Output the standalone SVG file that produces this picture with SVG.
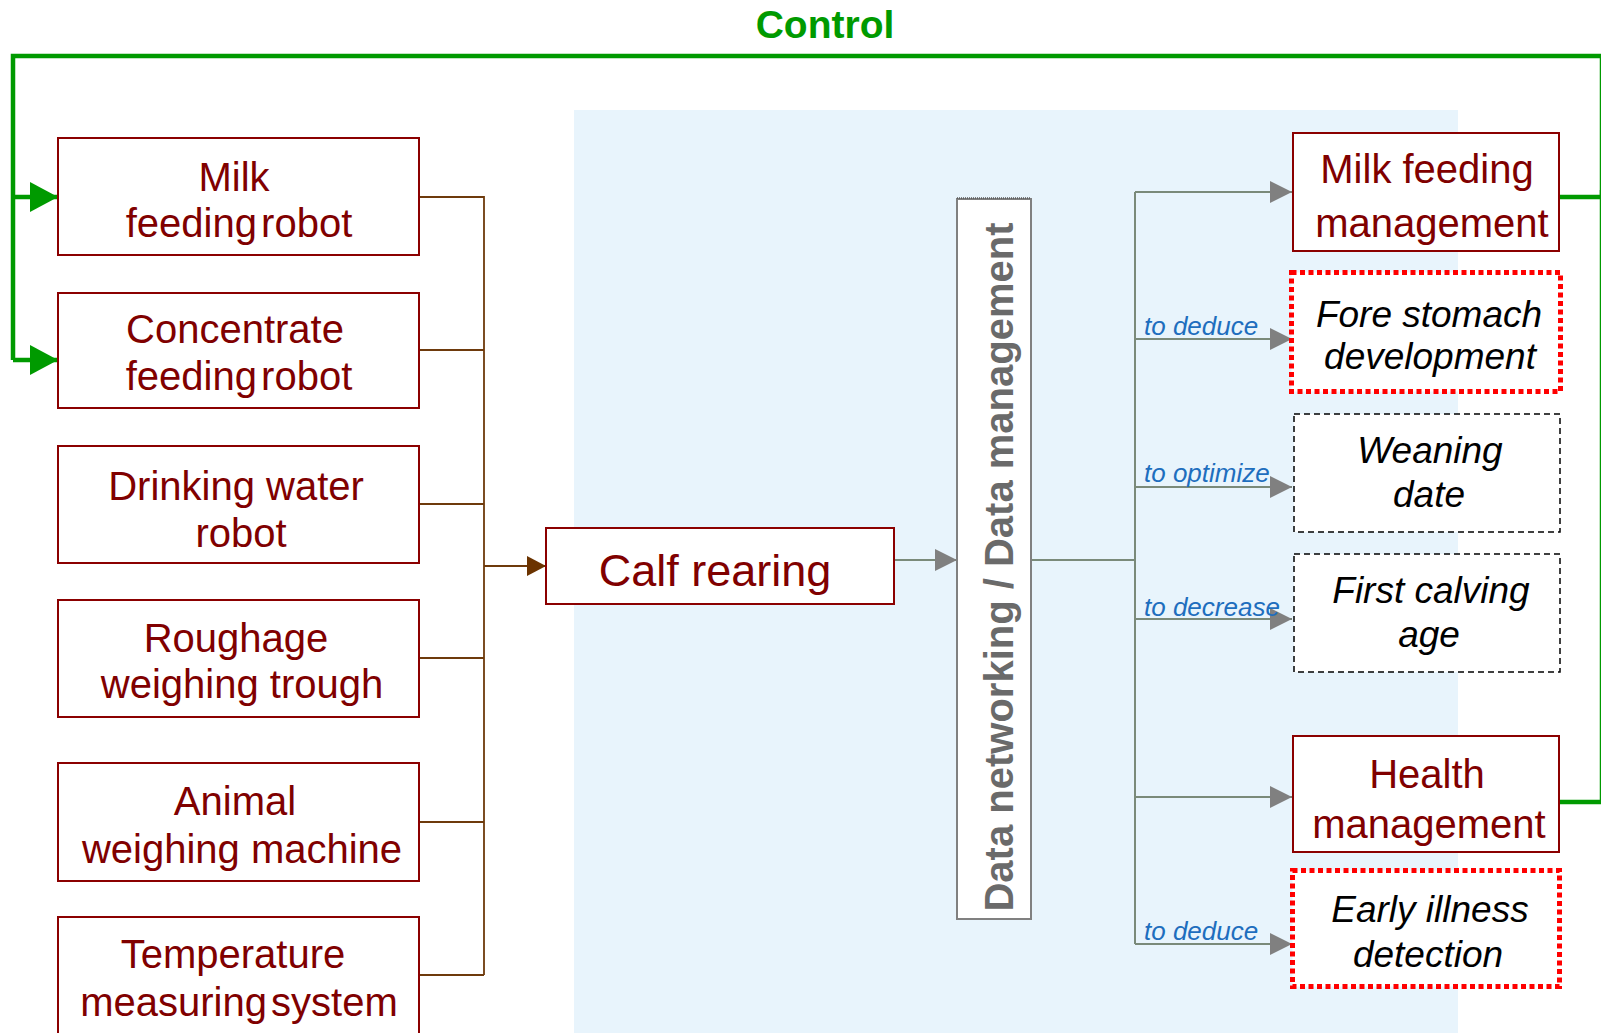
<svg xmlns="http://www.w3.org/2000/svg" width="1601" height="1033" viewBox="0 0 1601 1033">
<style>
.bx{fill:#fff;stroke:#8B0000;stroke-width:2}
.rt{font-family:"Liberation Sans",Arial,sans-serif;font-size:40px;fill:#800000;text-anchor:middle}
.it{font-family:"Liberation Sans",Arial,sans-serif;font-size:37px;font-style:italic;fill:#000;text-anchor:middle}
.lb{font-family:"Liberation Sans",Arial,sans-serif;font-size:26px;font-style:italic;fill:#1E6EBE}
.red{fill:#fff;stroke:#FF0000;stroke-width:5;stroke-dasharray:5 3.5}
.dsh{fill:#fff;stroke:#000;stroke-width:1.5;stroke-dasharray:6 4}
.gl{fill:none;stroke:#009A00;stroke-width:4.5}
.br{fill:none;stroke:#6E3A0C;stroke-width:1.8}
.gy{fill:none;stroke:#7A8A7A;stroke-width:2}
.nw{word-spacing:-7px}
</style>
<defs>
<marker id="ag" markerUnits="userSpaceOnUse" markerWidth="22" markerHeight="22" refX="22" refY="11" orient="auto" viewBox="0 0 22 22"><path d="M0,0 L22,11 L0,22 Z" fill="#808080"/></marker>
<marker id="agr" markerUnits="userSpaceOnUse" markerWidth="28" markerHeight="30" refX="28" refY="15" orient="auto" viewBox="0 0 28 30"><path d="M0,0 L28,15 L0,30 Z" fill="#009A00"/></marker>
<marker id="abr" markerUnits="userSpaceOnUse" markerWidth="19" markerHeight="20" refX="19" refY="10" orient="auto" viewBox="0 0 19 20"><path d="M0,0 L19,10 L0,20 Z" fill="#6B3300"/></marker>
</defs>
<rect x="0" y="0" width="1601" height="1033" fill="#fff"/>
<rect x="574" y="110" width="884" height="930" fill="#E8F4FC"/>
<text x="825" y="38" font-family="Liberation Sans, Arial, sans-serif" font-size="39" font-weight="bold" fill="#009A00" text-anchor="middle">Control</text>

<g id="connectors">
<path class="gl" d="M1601,56 H13 V360"/>
<path class="gl" d="M13,197 H58" marker-end="url(#agr)"/>
<path class="gl" d="M13,360 H58" marker-end="url(#agr)"/>
<path class="gl" d="M1559,197 H1602 V56"/>
<path class="gl" d="M1559,802 H1602 V190"/>
<path class="br" d="M419,197 H484 M419,350 H484 M419,504 H484 M419,658 H484 M419,822 H484 M419,975 H484 M484,196 V975"/>
<path class="br" d="M484,566 H546" stroke="#6B3300" stroke-width="2.2" marker-end="url(#abr)"/>
<path class="gy" d="M894,560 H957" marker-end="url(#ag)"/>
<path class="gy" d="M1031,560 H1135 M1135,192 V944"/>
<path class="gy" d="M1135,192 H1292" marker-end="url(#ag)"/>
<path class="gy" d="M1135,339 H1292" marker-end="url(#ag)"/>
<path class="gy" d="M1135,487 H1292" marker-end="url(#ag)"/>
<path class="gy" d="M1135,619 H1292" marker-end="url(#ag)"/>
<path class="gy" d="M1135,797 H1292" marker-end="url(#ag)"/>
<path class="gy" d="M1135,944 H1292" marker-end="url(#ag)"/>
<text class="lb" x="1144" y="335">to deduce</text>
<text class="lb" x="1144" y="482">to optimize</text>
<text class="lb" x="1144" y="616">to decrease</text>
<text class="lb" x="1144" y="940">to deduce</text>
</g>

<g id="milk-feeding-robot">
<rect class="bx" x="58" y="138" width="361" height="117"/>
<text class="rt" x="234" y="191">Milk</text>
<text class="rt nw" x="239" y="237">feeding robot</text>
</g>
<g id="concentrate-feeding-robot">
<rect class="bx" x="58" y="293" width="361" height="115"/>
<text class="rt" x="235" y="343">Concentrate</text>
<text class="rt nw" x="239" y="390">feeding robot</text>
</g>
<g id="drinking-water-robot">
<rect class="bx" x="58" y="446" width="361" height="117"/>
<text class="rt" x="236" y="500">Drinking water</text>
<text class="rt" x="241" y="547">robot</text>
</g>
<g id="roughage-weighing-trough">
<rect class="bx" x="58" y="600" width="361" height="117"/>
<text class="rt" x="236" y="652">Roughage</text>
<text class="rt" x="242" y="698">weighing trough</text>
</g>
<g id="animal-weighing-machine">
<rect class="bx" x="58" y="763" width="361" height="118"/>
<text class="rt" x="235" y="815">Animal</text>
<text class="rt" x="242" y="863">weighing machine</text>
</g>
<g id="temperature-measuring-system">
<rect class="bx" x="58" y="917" width="361" height="130"/>
<text class="rt" x="233" y="968">Temperature</text>
<text class="rt nw" x="239" y="1016">measuring system</text>
</g>

<g id="calf-rearing">
<rect class="bx" x="546" y="528" width="348" height="76"/>
<text class="rt" x="715" y="586" style="font-size:45px">Calf rearing</text>
</g>

<g id="data-networking">
<rect x="957" y="199" width="74" height="720" fill="#fff" stroke="#808080" stroke-width="2"/>
<path d="M957,198 H1031" stroke="#555" stroke-width="1.5" stroke-dasharray="1 1" fill="none"/>
<text transform="translate(1013,567) rotate(-90)" font-family="Liberation Sans, Arial, sans-serif" font-size="40" font-weight="bold" fill="#6A6A6A" text-anchor="middle">Data networking / Data management</text>
</g>

<g id="milk-feeding-management">
<rect class="bx" x="1293" y="133" width="266" height="118"/>
<text class="rt" x="1427" y="183">Milk feeding</text>
<text class="rt" x="1432" y="237">management</text>
</g>
<g id="fore-stomach-development">
<rect class="red" x="1291.5" y="272.5" width="269" height="119"/>
<text class="it" x="1429" y="327">Fore stomach</text>
<text class="it" x="1430" y="369">development</text>
</g>
<g id="weaning-date">
<rect class="dsh" x="1294" y="414" width="266" height="118"/>
<text class="it" x="1430" y="463">Weaning</text>
<text class="it" x="1429" y="507">date</text>
</g>
<g id="first-calving-age">
<rect class="dsh" x="1294" y="554" width="266" height="118"/>
<text class="it" x="1431" y="603">First calving</text>
<text class="it" x="1429" y="647">age</text>
</g>
<g id="health-management">
<rect class="bx" x="1293" y="736" width="266" height="116"/>
<text class="rt" x="1427" y="788">Health</text>
<text class="rt" x="1429" y="838">management</text>
</g>
<g id="early-illness-detection">
<rect class="red" x="1292.5" y="870.5" width="267" height="116"/>
<text class="it" x="1430" y="922">Early illness</text>
<text class="it" x="1428" y="967">detection</text>
</g>
</svg>
